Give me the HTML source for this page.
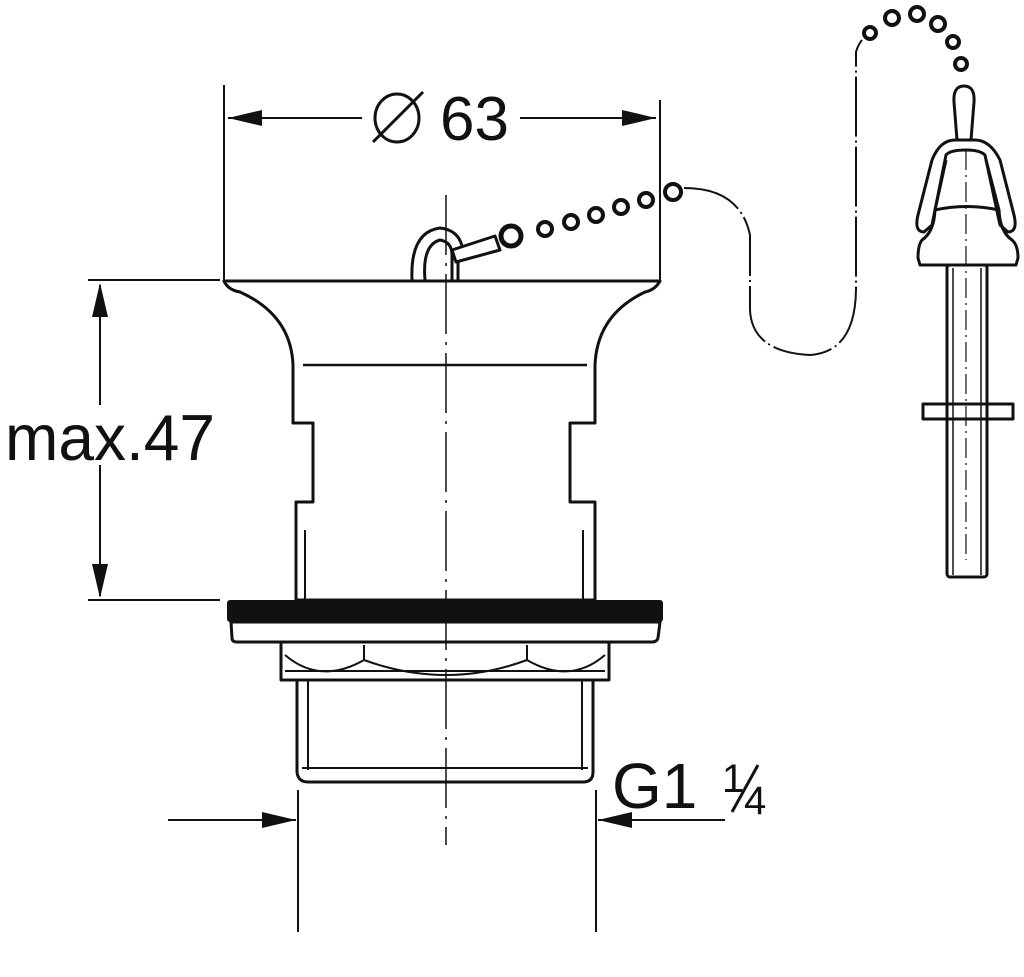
<!DOCTYPE html>
<html><head><meta charset="utf-8"><style>
html,body{margin:0;padding:0;background:#fff;}
svg{display:block}
text{font-family:"Liberation Sans",sans-serif;fill:#111}
</style></head><body>
<svg width="1024" height="977" viewBox="0 0 1024 977" xmlns="http://www.w3.org/2000/svg">
<g fill="none" stroke="#111" stroke-width="2.5" stroke-linejoin="round">
<!-- dimension Ø63 -->
<line x1="224" y1="85" x2="224" y2="281" stroke-width="2"/>
<line x1="660" y1="100" x2="660" y2="281" stroke-width="2"/>
<line x1="228" y1="118" x2="362" y2="118" stroke-width="2"/>
<line x1="520" y1="118" x2="656" y2="118" stroke-width="2"/>
<!-- max.47 -->
<line x1="88" y1="280" x2="220" y2="280" stroke-width="2"/>
<line x1="88" y1="600" x2="220" y2="600" stroke-width="2"/>
<line x1="100" y1="285" x2="100" y2="405" stroke-width="2"/>
<line x1="100" y1="465" x2="100" y2="596" stroke-width="2"/>
<!-- G1 1/4 -->
<line x1="298" y1="790" x2="298" y2="932" stroke-width="2"/>
<line x1="596" y1="790" x2="596" y2="932" stroke-width="2"/>
<line x1="168" y1="820" x2="296" y2="820" stroke-width="2"/>
<line x1="598" y1="820" x2="725" y2="820" stroke-width="2"/>
<!-- centerline -->
<line x1="446" y1="195" x2="446" y2="845" stroke-width="1.5" stroke-dasharray="60,8,3,8"/>
<!-- body -->
<path d="M224,281 L660,281 Q655,290 645,292 Q597,315 595,365 L595,423 L570,423 L570,502 L595,502 L595,600 L296,600 L296,502 L313,502 L313,423 L293,423 L293,365 Q291,315 240,292 Q228,290 224,281 Z" stroke-width="3"/>
<line x1="303" y1="365" x2="587" y2="365"/>
<line x1="305" y1="530" x2="305" y2="600" stroke-width="2"/>
<line x1="583" y1="530" x2="583" y2="600" stroke-width="2"/>
<!-- gasket -->
<rect x="227" y="600" width="436" height="22" fill="#111" stroke="none" rx="3"/>
<path d="M231,622 L660,622 L658,638 Q657,642 652,642 L237,642 Q232,642 232,638 Z" stroke-width="3"/>
<!-- nut -->
<rect x="281" y="642" width="328" height="38" stroke-width="3"/>
<line x1="285" y1="671" x2="605" y2="671" stroke-width="2"/>
<path d="M285,655 Q320,685 364,660 M364,645 L364,660 Q446,690 527,660 L527,645 M527,660 Q570,685 605,655" stroke-width="2"/>
<!-- thread -->
<path d="M297,680 L297,772 Q298,782 308,782 L583,782 Q593,782 593,772 L593,680" stroke-width="3"/>
<line x1="308" y1="680" x2="308" y2="770" stroke-width="2"/>
<line x1="582" y1="680" x2="582" y2="770" stroke-width="2"/>
<line x1="302" y1="768" x2="588" y2="768" stroke-width="2"/>
<!-- stopper handle -->
<path d="M412,280 Q410,232 440,228 Q458,230 462,246 M425,280 Q422,245 440,240 Q452,242 452,255 L452,280 M458,280 L458,260" stroke-width="3"/>
<path d="M452,250 L495,236 L500,250 L456,262 Z" stroke-width="3"/>
<circle cx="511" cy="236" r="10" stroke-width="5"/>
<g stroke-width="4">
<circle cx="545" cy="229" r="7"/><circle cx="571" cy="222" r="7"/><circle cx="596" cy="215" r="7"/><circle cx="621" cy="207" r="7"/><circle cx="646" cy="200" r="7"/><circle cx="673" cy="192" r="8"/>
</g>
<!-- thin chain path -->
<path d="M684,188 Q740,188 750,235 L750,310 Q752,352 810,355 Q855,352 856,290 L856,52 Q858,45 862,40" stroke-width="2" stroke-dasharray="60,4,2,4"/>
<g stroke-width="4">
<circle cx="870" cy="33" r="6"/><circle cx="892" cy="18" r="7"/><circle cx="917" cy="14" r="7"/><circle cx="938" cy="24" r="7"/><circle cx="953" cy="42" r="6"/><circle cx="961" cy="64" r="6"/>
</g>
<!-- plug -->
<path d="M957,140 L954,102 Q953,86 964,86 Q975,86 974,102 L971,140 Z" stroke-width="3"/>
<!-- frame legs -->
<path d="M955,140 L975,140 Q990,140 1000,160 L1014,215 Q1018,232 1008,232 L1000,225 L985,155 Q980,150 966,150 Q950,150 946,155 L932,225 L924,232 Q914,232 918,215 L932,160 Q940,140 955,140 Z" stroke-width="3"/>
<!-- cone body -->
<path d="M946,160 L935,210 Q934,232 922,240 Q918,245 918,258 L920,265 L1016,265 L1018,258 Q1018,245 1012,240 Q1000,232 999,210 L986,160" stroke-width="3"/>
<path d="M935,210 Q966,203 999,210" stroke-width="3"/>
<rect x="947" y="265" width="40" height="312" rx="3" stroke-width="3"/>
<line x1="953" y1="268" x2="953" y2="575" stroke-width="1.5"/>
<line x1="981" y1="268" x2="981" y2="575" stroke-width="1.5"/>
<rect x="923" y="404" width="90" height="15" stroke-width="3"/>
<line x1="966" y1="150" x2="966" y2="560" stroke-width="1.2" stroke-dasharray="20,5,2,5"/>
</g>
<!-- arrowheads -->
<g fill="#111">
<polygon points="228,118 262,110 262,126"/>
<polygon points="656,118 622,110 622,126"/>
<polygon points="100,283 92,317 108,317"/>
<polygon points="100,598 92,564 108,564"/>
<polygon points="296,820 262,812 262,828"/>
<polygon points="598,820 632,812 632,828"/>
</g>
<!-- labels -->
<ellipse cx="397" cy="118" rx="22" ry="24" fill="none" stroke="#111" stroke-width="3"/>
<line x1="373" y1="142" x2="423" y2="92" stroke="#111" stroke-width="3"/>
<text x="440" y="140" font-size="62">63</text>
<text x="5" y="460" font-size="65" textLength="210" lengthAdjust="spacingAndGlyphs">max.47</text>
<text x="612" y="808" font-size="64">G1</text>
<text x="722" y="792" font-size="40">1</text>
<line x1="732" y1="812" x2="758" y2="765" stroke="#111" stroke-width="3"/>
<text x="744" y="814" font-size="40">4</text>
</svg>
</body></html>
